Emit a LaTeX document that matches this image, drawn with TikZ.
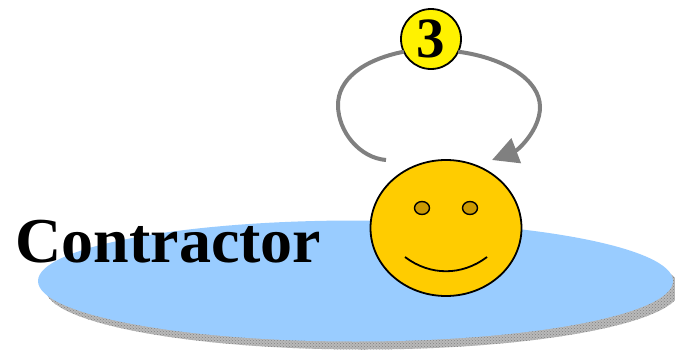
\documentclass[tikz,border=0pt]{standalone}
\usepackage{fontspec}
\setmainfont{Liberation Serif}
\usetikzlibrary{shapes.geometric, arrows.meta, patterns}
\definecolor{PondBlue}{HTML}{99CCFF}
\definecolor{FaceGold}{HTML}{FFCC00}
\definecolor{EyeGold}{HTML}{CC9900}
\definecolor{LoopGray}{HTML}{808080}

\begin{document}
\begin{tikzpicture}[
  x=1pt, y=-1pt,
  disc/.style={ellipse, inner sep=0pt, outer sep=0pt, minimum width=635pt, minimum height=121pt},
  face/.style={ellipse, draw=black, line width=1.8pt, fill=FaceGold, inner sep=0pt, outer sep=0pt, minimum width=151pt, minimum height=136pt},
  eye/.style={ellipse, draw=black, line width=1.4pt, fill=EyeGold, inner sep=0pt, outer sep=0pt, minimum width=15pt, minimum height=13pt},
  badge/.style={circle, draw=black, line width=1.8pt, fill=yellow, inner sep=0pt, outer sep=0pt, minimum size=60pt, font=\bfseries\fontsize{57}{60}\selectfont},
  loopline/.style={draw=LoopGray, line width=4pt},
  looparrow/.style={loopline, -{Triangle[length=26pt, width=26pt, fill=LoopGray]}}
]
  \useasboundingbox (0,0) rectangle (675,351);

  \node[disc, preaction={fill=gray!55}, pattern=crosshatch dots, pattern color=gray] (shadow) at (363,289) {};
  \node[disc, fill=PondBlue] (pond) at (355.5,281) {};
  \node[anchor=base west, inner sep=0pt, font=\bfseries\fontsize{64}{70}\selectfont] (contractor) at (15.5,262) {Contractor};

  \node[face] (smiley) at (446,228) {};
  \node[eye] (lefteye) at (422,208) {};
  \node[eye] (righteye) at (470,208) {};
  \draw[line width=1.8pt] (405,257) .. controls (430,276) and (462,276) .. (487,257);

  \node[badge] (three) at (431,39) {3};
  \coordinate (leftend) at (386,160);
  \coordinate (righttip) at (492,160);

  \draw[loopline] (three.205) .. controls (362,60) and (338,80) .. (338,105) .. controls (338,132) and (360,158) .. (leftend);
  \draw[looparrow] (three.-25) .. controls (505,58) and (540,80) .. (540,107) .. controls (540,130) and (518,150) .. (righttip);
\end{tikzpicture}
\end{document}
